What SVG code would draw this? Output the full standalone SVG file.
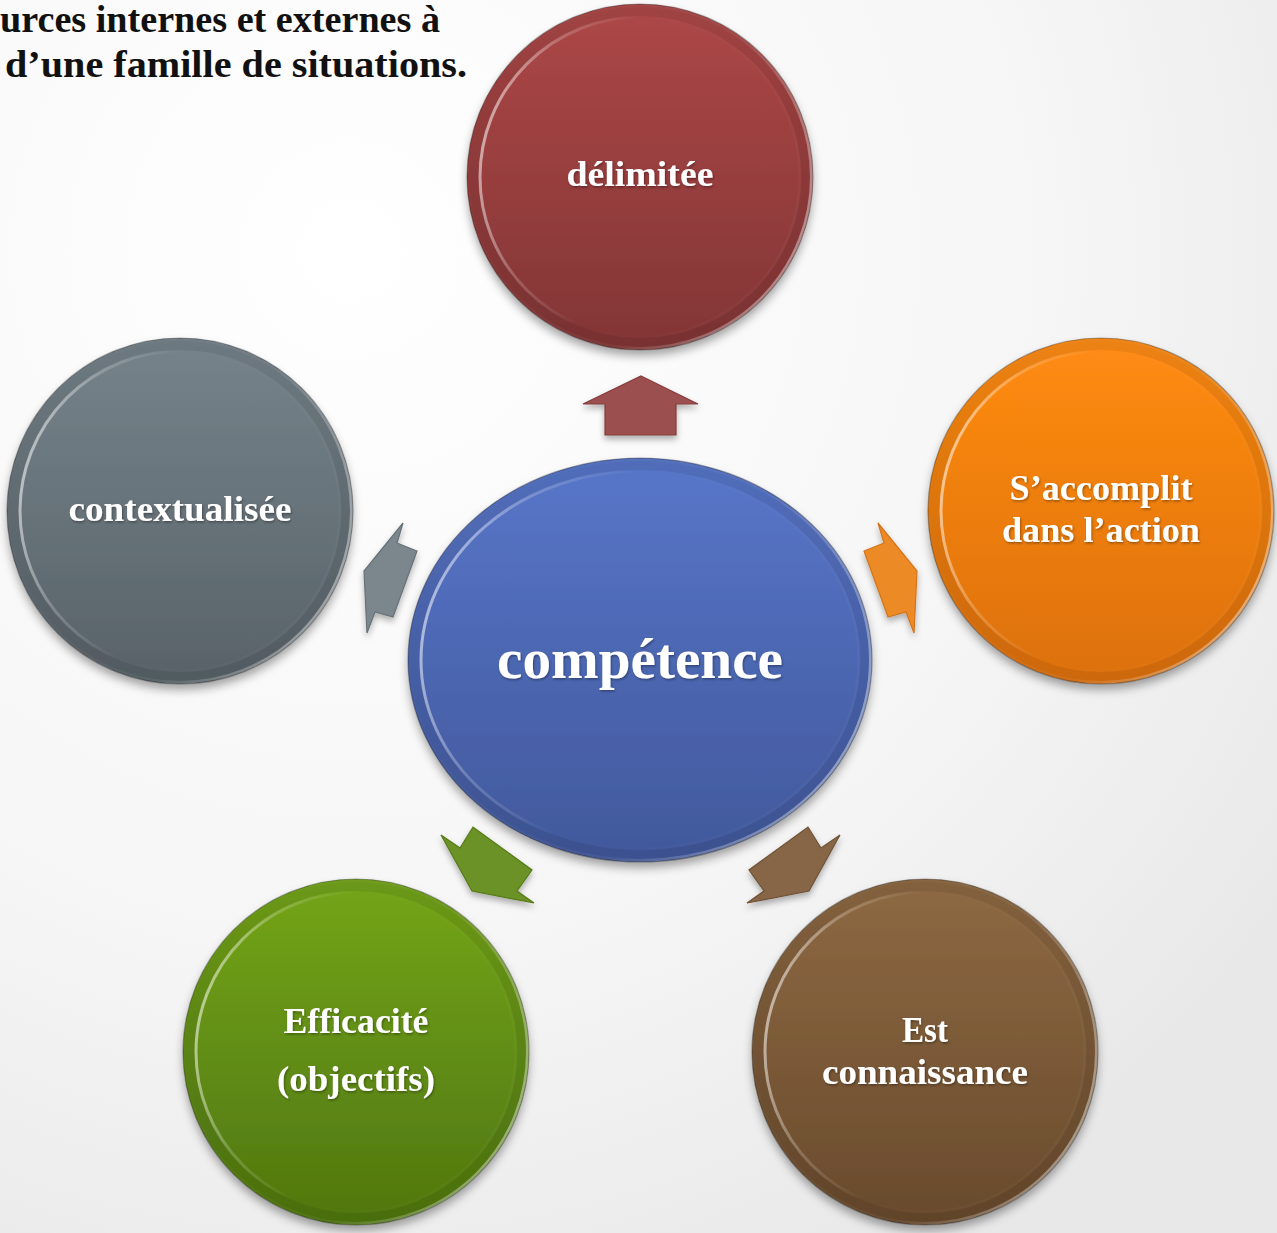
<svg xmlns="http://www.w3.org/2000/svg" width="1277" height="1233" viewBox="0 0 1277 1233">
<defs>
  <radialGradient id="bg" cx="350" cy="250" r="1150" gradientUnits="userSpaceOnUse">
    <stop offset="0" stop-color="#ffffff"/>
    <stop offset="0.6" stop-color="#f6f6f6"/>
    <stop offset="1" stop-color="#e8e8e8"/>
  </radialGradient>
  <linearGradient id="gRed" x1="0" y1="0" x2="0" y2="1"><stop offset="0" stop-color="#ad4747"/><stop offset="1" stop-color="#823535"/></linearGradient>
  <linearGradient id="gOrange" x1="0" y1="0" x2="0" y2="1"><stop offset="0" stop-color="#ff8c12"/><stop offset="1" stop-color="#dc700e"/></linearGradient>
  <linearGradient id="gGray" x1="0" y1="0" x2="0" y2="1"><stop offset="0" stop-color="#76838b"/><stop offset="1" stop-color="#586268"/></linearGradient>
  <linearGradient id="gGreen" x1="0" y1="0" x2="0" y2="1"><stop offset="0" stop-color="#74a51a"/><stop offset="1" stop-color="#4f760f"/></linearGradient>
  <linearGradient id="gBrown" x1="0" y1="0" x2="0" y2="1"><stop offset="0" stop-color="#8e6943"/><stop offset="1" stop-color="#684a2c"/></linearGradient>
  <linearGradient id="gBlue" x1="0" y1="0" x2="0" y2="1"><stop offset="0" stop-color="#5876c9"/><stop offset="1" stop-color="#41589b"/></linearGradient>
  <linearGradient id="hlInner" x1="0" y1="0.4" x2="1" y2="0.6">
    <stop offset="0" stop-color="#ffffff" stop-opacity="0.55"/>
    <stop offset="0.18" stop-color="#ffffff" stop-opacity="0.2"/>
    <stop offset="0.4" stop-color="#ffffff" stop-opacity="0"/>
    <stop offset="1" stop-color="#ffffff" stop-opacity="0.03"/>
  </linearGradient>
  <linearGradient id="hlOuter" x1="0" y1="0.3" x2="1" y2="0.7">
    <stop offset="0" stop-color="#ffffff" stop-opacity="0"/>
    <stop offset="0.6" stop-color="#ffffff" stop-opacity="0.05"/>
    <stop offset="1" stop-color="#ffffff" stop-opacity="0.45"/>
  </linearGradient>
  <filter id="shadow" x="-20%" y="-20%" width="140%" height="140%">
    <feDropShadow dx="0" dy="6" stdDeviation="5" flood-color="#000" flood-opacity="0.35"/>
  </filter>
  <filter id="ashadow" x="-30%" y="-30%" width="160%" height="160%">
    <feDropShadow dx="0" dy="4" stdDeviation="3" flood-color="#000" flood-opacity="0.3"/>
  </filter>
  <filter id="tshadow" x="-10%" y="-30%" width="120%" height="160%">
    <feDropShadow dx="1" dy="1.5" stdDeviation="1" flood-color="#000" flood-opacity="0.35"/>
  </filter>
  <style>
    .lbl { font-family: "Liberation Serif", "DejaVu Serif", serif; font-weight: bold; fill: #ffffff; text-anchor: middle; filter: url(#tshadow); }
    .title { font-family: "Liberation Serif", "DejaVu Serif", serif; font-weight: bold; fill: #111111; font-size: 37px; }
    .band { fill: none; stroke: #000000; stroke-opacity: 0.07; stroke-width: 12; }
    .inner { fill: none; stroke: url(#hlInner); stroke-width: 3; }
    .outer { fill: none; stroke: url(#hlOuter); stroke-width: 3; }
    .edge { fill: none; stroke: #000000; stroke-opacity: 0.3; stroke-width: 1.2; }
    .arrow { filter: url(#ashadow); stroke-width: 1.2; stroke-linejoin: miter; }
  </style>
</defs>

<rect x="0" y="0" width="1277" height="1233" fill="url(#bg)"/>

<g id="intro-text">
  <text class="title" x="0" y="32" textLength="440" lengthAdjust="spacingAndGlyphs">urces internes et externes à</text>
  <text class="title" x="5" y="77" textLength="462" lengthAdjust="spacingAndGlyphs">d’une famille de situations.</text>
</g>

<g id="connectors">
  <polygon class="arrow" fill="#9c4f4f" stroke="#853d3d" points="641,376 698,404 676,404 676,435 605,435 605,404 583,404"/>
  <polygon class="arrow" fill="#7b878d" stroke="#667178" points="403,523 397,543 417,551 393,617 375,612 367,633 364,571"/>
  <polygon class="arrow" fill="#ec8a28" stroke="#d4741a" points="878,523 884,543 864,551 888,617 906,612 914,633 917,571"/>
  <polygon class="arrow" fill="#6a9225" stroke="#567a18" points="441,835 460,848 473,827 532,870 517,891 534,903 472,891"/>
  <polygon class="arrow" fill="#876646" stroke="#6f5236" points="840,835 821,848 808,827 749,870 764,891 747,903 809,891"/>
</g>

<g id="node-competence">
  <ellipse cx="640" cy="660" rx="232" ry="202" fill="url(#gBlue)" filter="url(#shadow)"/>
  <ellipse cx="640" cy="660" rx="226" ry="196" class="band"/>
  <ellipse cx="640" cy="660" rx="219" ry="189" class="inner"/>
  <ellipse cx="640" cy="660" rx="230.5" ry="200.5" class="outer"/>
  <ellipse cx="640" cy="660" rx="232" ry="202" class="edge"/>
  <text class="lbl" x="640" y="678" font-size="57" textLength="286" lengthAdjust="spacingAndGlyphs">compétence</text>
</g>

<g id="node-delimitee">
  <circle cx="640" cy="177" r="173" fill="url(#gRed)" filter="url(#shadow)"/>
  <circle cx="640" cy="177" r="167" class="band"/>
  <circle cx="640" cy="177" r="160" class="inner"/>
  <circle cx="640" cy="177" r="171.5" class="outer"/>
  <circle cx="640" cy="177" r="173" class="edge"/>
  <text class="lbl" x="640" y="186" font-size="36" textLength="147" lengthAdjust="spacingAndGlyphs">délimitée</text>
</g>

<g id="node-accomplit">
  <circle cx="1101" cy="511" r="173" fill="url(#gOrange)" filter="url(#shadow)"/>
  <circle cx="1101" cy="511" r="167" class="band"/>
  <circle cx="1101" cy="511" r="160" class="inner"/>
  <circle cx="1101" cy="511" r="171.5" class="outer"/>
  <circle cx="1101" cy="511" r="173" class="edge"/>
  <text class="lbl" x="1101" y="500" font-size="36" textLength="183" lengthAdjust="spacingAndGlyphs">S’accomplit</text>
  <text class="lbl" x="1101" y="542" font-size="36" textLength="198" lengthAdjust="spacingAndGlyphs">dans l’action</text>
</g>

<g id="node-contextualisee">
  <circle cx="180" cy="511" r="173" fill="url(#gGray)" filter="url(#shadow)"/>
  <circle cx="180" cy="511" r="167" class="band"/>
  <circle cx="180" cy="511" r="160" class="inner"/>
  <circle cx="180" cy="511" r="171.5" class="outer"/>
  <circle cx="180" cy="511" r="173" class="edge"/>
  <text class="lbl" x="180" y="521" font-size="36" textLength="223" lengthAdjust="spacingAndGlyphs">contextualisée</text>
</g>

<g id="node-efficacite">
  <circle cx="356" cy="1052" r="173" fill="url(#gGreen)" filter="url(#shadow)"/>
  <circle cx="356" cy="1052" r="167" class="band"/>
  <circle cx="356" cy="1052" r="160" class="inner"/>
  <circle cx="356" cy="1052" r="171.5" class="outer"/>
  <circle cx="356" cy="1052" r="173" class="edge"/>
  <text class="lbl" x="356" y="1033" font-size="36" textLength="145" lengthAdjust="spacingAndGlyphs">Efficacité</text>
  <text class="lbl" x="356" y="1091" font-size="36" textLength="158" lengthAdjust="spacingAndGlyphs">(objectifs)</text>
</g>

<g id="node-connaissance">
  <circle cx="925" cy="1052" r="173" fill="url(#gBrown)" filter="url(#shadow)"/>
  <circle cx="925" cy="1052" r="167" class="band"/>
  <circle cx="925" cy="1052" r="160" class="inner"/>
  <circle cx="925" cy="1052" r="171.5" class="outer"/>
  <circle cx="925" cy="1052" r="173" class="edge"/>
  <text class="lbl" x="925" y="1042" font-size="36" textLength="46" lengthAdjust="spacingAndGlyphs">Est</text>
  <text class="lbl" x="925" y="1084" font-size="36" textLength="206" lengthAdjust="spacingAndGlyphs">connaissance</text>
</g>
</svg>
